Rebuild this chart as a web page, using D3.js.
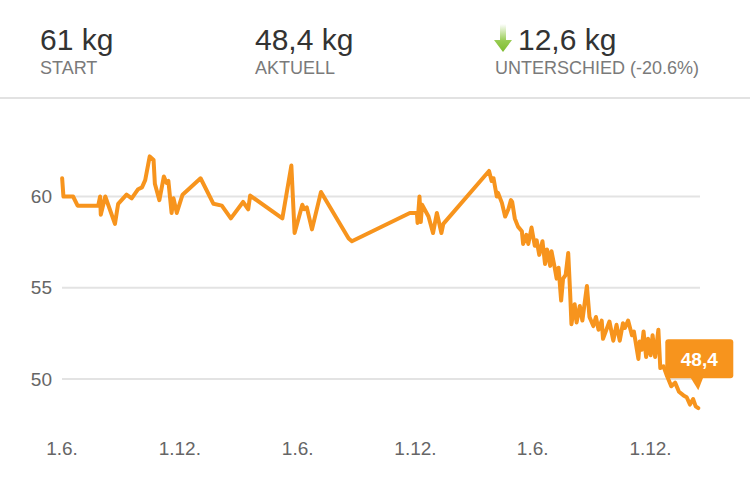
<!DOCTYPE html>
<html>
<head>
<meta charset="utf-8">
<script src="https://cdn.jsdelivr.net/npm/d3@7"></script>
<style>
  html, body { margin: 0; padding: 0; background: #fff; }
  svg { display: block; }
  text { font-family: "Liberation Sans", Arial, Helvetica, sans-serif; }
</style>
</head>
<body>
<svg id="chart" width="750" height="481"></svg>
<script>
// ---- data ----
const headerValues = ["61 kg", "48,4 kg", "12,6 kg"];
const headerLabels = ["START", "AKTUELL", "UNTERSCHIED (-20.6%)"];
const yTicks = [50, 55, 60];
const xTickDates = ["2015-06-01", "2015-12-01", "2016-06-01", "2016-12-01", "2017-06-01", "2017-12-01"];
const tooltipLabel = "48,4";

const dates = [
  "2015-06-02","2015-06-04","2015-06-19","2015-06-26","2015-07-28","2015-07-31","2015-08-01","2015-08-08",
  "2015-08-23","2015-08-28","2015-09-10","2015-09-18","2015-09-28","2015-10-04","2015-10-09","2015-10-16",
  "2015-10-22","2015-10-24","2015-10-31","2015-11-07","2015-11-11","2015-11-14","2015-11-19","2015-11-22",
  "2015-11-27","2015-12-06","2016-01-03","2016-01-23","2016-02-05","2016-02-19","2016-03-09","2016-03-17",
  "2016-03-20","2016-05-09","2016-05-23","2016-05-28","2016-06-09","2016-06-12","2016-06-16","2016-06-24",
  "2016-07-08","2016-08-20","2016-08-25","2016-11-23","2016-12-04","2016-12-05","2016-12-08","2016-12-10",
  "2016-12-12","2016-12-22","2016-12-29","2017-01-04","2017-01-11","2017-01-14","2017-03-26",
  "2017-03-30","2017-04-02","2017-04-07","2017-04-09","2017-04-15","2017-04-20","2017-04-25","2017-04-29",
  "2017-05-01","2017-05-05","2017-05-10","2017-05-16","2017-05-18","2017-05-23","2017-05-26","2017-05-31",
  "2017-06-05","2017-06-08","2017-06-12","2017-06-17","2017-06-21","2017-06-24","2017-06-29","2017-07-01",
  "2017-07-06","2017-07-09","2017-07-12","2017-07-16","2017-07-19","2017-07-23","2017-07-27","2017-07-30",
  "2017-08-01","2017-08-06","2017-08-09","2017-08-14","2017-08-18","2017-08-25","2017-08-29","2017-09-04",
  "2017-09-08","2017-09-12","2017-09-17","2017-09-19","2017-09-29","2017-10-05","2017-10-10","2017-10-15",
  "2017-10-20","2017-10-23","2017-10-28","2017-11-03","2017-11-06","2017-11-13","2017-11-15","2017-11-18",
  "2017-11-21","2017-11-25","2017-11-28","2017-12-02","2017-12-05","2017-12-09","2017-12-14","2017-12-17",
  "2017-12-22","2017-12-27","2018-01-03","2018-01-09","2018-01-15","2018-01-22","2018-01-27","2018-02-01",
  "2018-02-06","2018-02-10","2018-02-14"
];
const weights = [
  61.0,60.0,60.0,59.5,59.5,60.0,59.0,60.0,
  58.5,59.6,60.1,59.9,60.4,60.5,60.9,62.2,
  62.0,60.7,59.8,61.1,60.75,60.85,59.1,59.9,
  59.1,60.1,61.0,59.6,59.5,58.8,59.7,59.3,
  60.05,58.8,61.7,58.0,59.55,59.3,59.4,58.2,
  60.25,57.7,57.55,59.1,59.1,58.55,60.0,58.6,
  59.55,58.9,58.0,59.1,58.0,58.5,61.4,
  60.85,61.0,60.0,60.2,59.65,58.9,59.3,59.8,
  59.7,58.8,58.35,58.1,57.4,57.9,57.4,58.3,
  57.3,57.6,56.8,57.55,56.3,57.1,56.2,57.0,
  56.1,55.5,56.1,54.3,55.5,55.7,56.9,54.7,
  53.0,54.1,53.1,54.0,53.2,55.1,53.4,52.9,
  53.4,52.7,53.2,52.2,53.15,52.1,52.97,52.1,
  53.06,52.8,53.2,52.4,52.6,51.1,52.05,51.6,
  52.6,51.2,52.2,51.3,52.4,51.2,52.7,50.6,
  50.7,50.2,49.6,49.8,49.3,49.1,49.0,48.6,
  48.9,48.5,48.4
];

// ---- drawing ----
const parse = d3.timeParse("%Y-%m-%d");
const data = dates.map((d, i) => ({ date: parse(d), value: weights[i] }));

const svg = d3.select("#chart");
const orange = "#f7941d";

// header
const headerX = [40, 255, 495];
const valueX = [40, 255, 518];
const hdr = svg.append("g");
hdr.selectAll("text.val").data(headerValues).join("text")
  .attr("class", "val")
  .attr("x", (d, i) => valueX[i]).attr("y", 50)
  .attr("font-size", 30).attr("fill", "#333")
  .text(d => d);
hdr.selectAll("text.lbl").data(headerLabels).join("text")
  .attr("class", "lbl")
  .attr("x", (d, i) => headerX[i]).attr("y", 74)
  .attr("font-size", 18).attr("fill", "#7a7a7a")
  .text(d => d);

// green arrow
const defs = svg.append("defs");
const grad = defs.append("linearGradient").attr("id", "arrowGrad")
  .attr("x1", 0).attr("y1", 0).attr("x2", 0).attr("y2", 1);
grad.append("stop").attr("offset", "0%").attr("stop-color", "#8cc63f").attr("stop-opacity", 0);
grad.append("stop").attr("offset", "60%").attr("stop-color", "#8cc63f").attr("stop-opacity", 0.9);
grad.append("stop").attr("offset", "100%").attr("stop-color", "#7dbb2f").attr("stop-opacity", 1);
svg.append("path")
  .attr("d", "M500,24 L506,24 L506,40 L512,40 L503,52 L494,40 L500,40 Z")
  .attr("fill", "url(#arrowGrad)");

// separator
svg.append("rect").attr("x", 0).attr("y", 97).attr("width", 750).attr("height", 2).attr("fill", "#e2e2e2");

// scales
const x = d3.scaleTime()
  .domain([parse("2015-06-01"), parse("2017-12-01")])
  .range([61.5, 650]);
const y = d3.scaleLinear().domain([50, 60]).range([379, 196.5]);

// grid
svg.append("g").selectAll("line").data(yTicks).join("line")
  .attr("x1", 62).attr("x2", 700)
  .attr("y1", d => y(d)).attr("y2", d => y(d))
  .attr("stroke", "#e3e3e3").attr("stroke-width", 2);

// y axis labels
const yAxis = d3.axisLeft(y).tickValues(yTicks).tickSize(0).tickPadding(0).tickFormat(d3.format("d"));
const gy = svg.append("g").attr("transform", "translate(52,0)").call(yAxis);
gy.select(".domain").remove();
gy.selectAll("text").attr("font-size", 19).attr("fill", "#666")
  .attr("font-family", "'Liberation Sans', Arial, sans-serif");

// x axis labels
const xAxis = d3.axisBottom(x).tickValues(xTickDates.map(parse))
  .tickSize(0).tickPadding(0).tickFormat(d3.timeFormat("%-d.%-m."));
const gx = svg.append("g").attr("transform", "translate(0,441)").call(xAxis);
gx.select(".domain").remove();
gx.selectAll("text").attr("font-size", 19).attr("fill", "#666")
  .attr("font-family", "'Liberation Sans', Arial, sans-serif");

// line
const line = d3.line().x(d => x(d.date)).y(d => y(d.value));
svg.append("path").datum(data)
  .attr("d", line)
  .attr("fill", "none").attr("stroke", orange)
  .attr("stroke-width", 4).attr("stroke-linejoin", "round").attr("stroke-linecap", "round");

// tooltip
const last = data[data.length - 1];
const tx = x(last.date), ty = y(last.value);
const tip = svg.append("g");
tip.append("rect").attr("x", tx - 33).attr("y", ty - 69).attr("width", 68).attr("height", 39)
  .attr("rx", 3).attr("fill", orange);
tip.append("path")
  .attr("d", `M${tx - 8},${ty - 31} L${tx + 5},${ty - 31} L${tx},${ty - 18} Z`)
  .attr("fill", orange);
tip.append("text").attr("x", tx + 1).attr("y", ty - 42)
  .attr("text-anchor", "middle").attr("font-size", 19).attr("font-weight", "bold")
  .attr("fill", "#fff").text(tooltipLabel);
</script>
</body>
</html>
